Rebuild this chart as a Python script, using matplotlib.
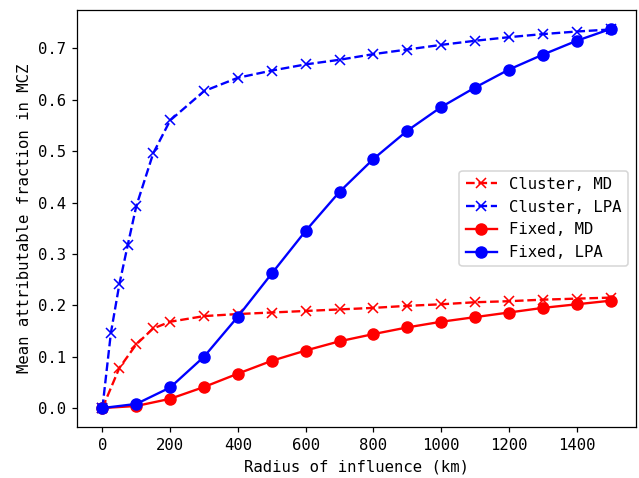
import matplotlib
matplotlib.use("Agg")
import matplotlib.pyplot as plt

plt.rcParams['font.family'] = ['DejaVu Sans Mono']

cluster_md_x = [0, 50, 100, 150, 200, 300, 400, 500, 600, 700, 800, 900, 1000, 1100, 1200, 1300, 1400, 1500]
cluster_md_y = [0.0, 0.078, 0.124, 0.155, 0.168, 0.179, 0.183, 0.186, 0.189, 0.192, 0.195, 0.199, 0.202, 0.206, 0.208, 0.211, 0.213, 0.215]

cluster_lpa_x = [0, 25, 50, 75, 100, 150, 200, 300, 400, 500, 600, 700, 800, 900, 1000, 1100, 1200, 1300, 1400, 1500]
cluster_lpa_y = [0.0, 0.146, 0.241, 0.318, 0.393, 0.496, 0.560, 0.617, 0.643, 0.657, 0.669, 0.678, 0.689, 0.698, 0.707, 0.715, 0.722, 0.728, 0.733, 0.737]

fixed_x = [0, 100, 200, 300, 400, 500, 600, 700, 800, 900, 1000, 1100, 1200, 1300, 1400, 1500]
fixed_md_y = [0.0, 0.004, 0.018, 0.041, 0.067, 0.092, 0.112, 0.130, 0.144, 0.157, 0.168, 0.177, 0.186, 0.195, 0.202, 0.209]
fixed_lpa_y = [0.0, 0.008, 0.040, 0.100, 0.178, 0.262, 0.345, 0.421, 0.485, 0.540, 0.586, 0.624, 0.659, 0.688, 0.715, 0.738]

dpi = 112.5
fig, ax = plt.subplots(figsize=(639 / dpi, 478 / dpi), dpi=dpi)
ax.plot(cluster_md_x, cluster_md_y, 'rx--', label='Cluster, MD', ms=7)
ax.plot(cluster_lpa_x, cluster_lpa_y, 'bx--', label='Cluster, LPA', ms=7)
ax.plot(fixed_x, fixed_md_y, 'ro-', label='Fixed, MD', ms=7)
ax.plot(fixed_x, fixed_lpa_y, 'bo-', label='Fixed, LPA', ms=7)
ax.set_xlabel('Radius of influence (km)')
ax.set_ylabel('Mean attributable fraction in MCZ')
ax.legend(loc='center right')
fig.subplots_adjust(left=77 / 639, right=636 / 639, top=1 - 10 / 478, bottom=1 - 427 / 478)
fig.savefig('out.png', dpi=dpi)
